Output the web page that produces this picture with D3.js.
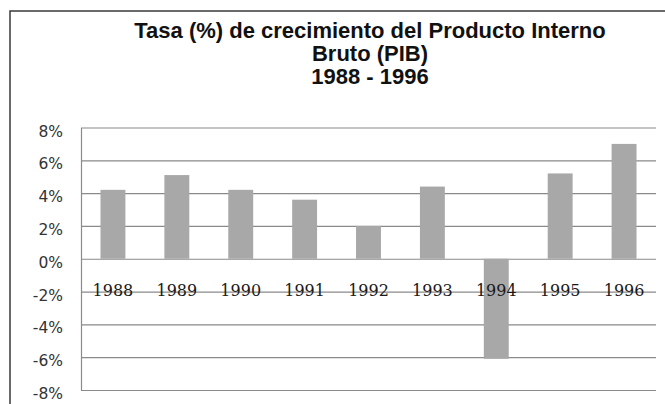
<!DOCTYPE html>
<html>
<head>
<meta charset="utf-8">
<script src="https://cdn.jsdelivr.net/npm/d3@7/dist/d3.min.js"></script>
<style>
  html, body { margin: 0; padding: 0; background: #fff; }
  svg { display: block; }
</style>
</head>
<body>
<svg id="chart" width="665" height="404"></svg>
<script>
// GDP growth rate by year, in percent
const years = ["1988", "1989", "1990", "1991", "1992", "1993", "1994", "1995", "1996"];
const growth = [4.2, 5.1, 4.2, 3.6, 2.0, 4.4, -6.1, 5.2, 7.0];
const yTicks = [-8, -6, -4, -2, 0, 2, 4, 6, 8];
const titleLines = ["Tasa (%) de crecimiento del Producto Interno", "Bruto (PIB)", "1988 - 1996"];

const svg = d3.select("#chart");

// chart frame
svg.append("rect")
  .attr("x", 10).attr("y", 11)
  .attr("width", 740).attr("height", 420)
  .attr("fill", "#fff")
  .attr("stroke", "#3a3a3a")
  .attr("stroke-width", 1.5);

// title
svg.append("g")
  .selectAll("text")
  .data(titleLines)
  .join("text")
  .attr("x", 370)
  .attr("y", (d, i) => 38 + i * 23)
  .attr("text-anchor", "middle")
  .attr("font-family", "'Liberation Sans', Arial, sans-serif")
  .attr("font-weight", "bold")
  .attr("font-size", 22)
  .attr("fill", "#111")
  .text(d => d);

const plotLeft = 81, plotRight = 656, plotTop = 127.5, plotBottom = 390;

const y = d3.scaleLinear().domain([-8, 8]).range([plotBottom, plotTop]);
const x = d3.scaleBand().domain(years).range([plotLeft, plotRight])
  .paddingInner(0.61).paddingOuter(0.305);

// value axis with gridlines
const yAxis = d3.axisLeft(y)
  .tickValues(yTicks)
  .tickSizeInner(-(plotRight - plotLeft))
  .tickSizeOuter(0)
  .tickPadding(18)
  .tickFormat(d => d + "%");

const gy = svg.append("g")
  .attr("transform", `translate(${plotLeft},0)`)
  .call(yAxis);
gy.select(".domain").attr("stroke", "#8a8a8a").attr("stroke-width", 1.2);
gy.selectAll(".tick line").attr("stroke", "#8a8a8a").attr("stroke-width", 1.2);
gy.selectAll(".tick text")
  .attr("dy", "0.55em")
  .attr("font-family", "'DejaVu Sans', sans-serif")
  .attr("font-size", 15.5)
  .attr("fill", "#333");

// bars
svg.append("g")
  .selectAll("rect")
  .data(years.map((yr, i) => ({ yr, v: growth[i] })))
  .join("rect")
  .attr("x", d => x(d.yr))
  .attr("width", x.bandwidth())
  .attr("y", d => y(Math.max(0, d.v)))
  .attr("height", d => Math.abs(y(d.v) - y(0)))
  .attr("fill", "#a8a8a8");

// category axis at zero
const xAxis = d3.axisBottom(x).tickSize(0).tickPadding(0);
const gx = svg.append("g")
  .attr("transform", `translate(0,${y(0)})`)
  .call(xAxis);
gx.select(".domain").remove();
gx.selectAll(".tick text")
  .attr("y", 37)
  .attr("dy", 0)
  .attr("font-family", "'DejaVu Serif', serif")
  .attr("font-size", 16)
  .attr("fill", "#1a1a1a");
</script>
</body>
</html>
